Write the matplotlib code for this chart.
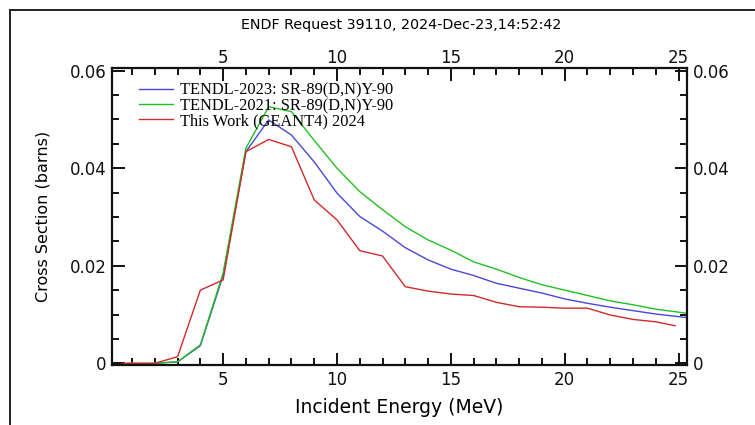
import numpy as np
import matplotlib
matplotlib.use("Agg")
import matplotlib.pyplot as plt
from matplotlib.lines import Line2D
from matplotlib.ticker import MultipleLocator, FixedLocator

# energies (MeV) and cross sections (barns)
E_T23 = [2, 3, 4, 5, 6, 7, 8, 9, 10, 11, 12, 13, 14, 15, 16, 17, 18, 19, 20,
         21, 22, 23, 24, 25.3]
XS_T23 = [0.0, 0.0003, 0.0036, 0.018, 0.0434, 0.0499, 0.0468, 0.0413, 0.0349,
          0.0301, 0.0271, 0.0237, 0.0212, 0.0193, 0.0180, 0.0164, 0.0154,
          0.0144, 0.0132, 0.0123, 0.0115, 0.0108, 0.0101, 0.0094]

E_T21 = [0.8, 2, 3, 4, 5, 6, 7, 8, 9, 10, 11, 12, 13, 14, 15, 16, 17, 18, 19,
         20, 21, 22, 23, 24, 25.3]
XS_T21 = [0.0, 0.0, 0.0003, 0.0038, 0.0185, 0.0441, 0.0526, 0.0516, 0.0457,
          0.0400, 0.0352, 0.0315, 0.0280, 0.0253, 0.0232, 0.0208, 0.0193,
          0.0176, 0.0161, 0.0150, 0.0139, 0.0128, 0.0120, 0.0111, 0.0103]

E_G4 = [0.6, 1, 2, 3, 4, 5, 6, 7, 8, 9, 10, 11, 12, 13, 14, 15, 16, 17, 18,
        19, 20, 21, 22, 23, 24, 24.85]
XS_G4 = [0.0, 0.0, 0.0, 0.00135, 0.0150, 0.0171, 0.0434, 0.0459, 0.0444,
         0.0335, 0.0294, 0.0231, 0.0220, 0.0157, 0.0148, 0.0142, 0.0139,
         0.0125, 0.0116, 0.0115, 0.0113, 0.0113, 0.0099, 0.0090, 0.0085,
         0.0077]

X_TICKS = [5, 10, 15, 20, 25]

LBL_T23 = "TENDL-2023: SR-89(D,N)Y-90"
LBL_T21 = "TENDL-2021: SR-89(D,N)Y-90"
LBL_G4 = "This Work (GEANT4) 2024"
TITLE = "ENDF Request 39110, 2024-Dec-23,14:52:42"

BLUE = "#4848d8"
GREEN = "#22c022"
RED = "#d02a2a"
INK = "#111111"

plt.rcParams["font.family"] = ["DejaVu Sans"]

fig = plt.figure(figsize=(7.55, 4.25), dpi=100)
ax = fig.add_axes([112 / 755, 1 - 365 / 425, 575 / 755, 297 / 425])

ax.plot(E_T23, XS_T23, color=BLUE, lw=1.0, label=LBL_T23)
ax.plot(E_T21, XS_T21, color=GREEN, lw=1.0, label=LBL_T21)
ax.plot(E_G4, XS_G4, color=RED, lw=1.0, label=LBL_G4)

ax.set_xlim(0.12, 25.37)
ax.set_ylim(-0.00035, 0.06055)

ax.xaxis.set_major_locator(FixedLocator(X_TICKS))
ax.xaxis.set_minor_locator(MultipleLocator(1))
ax.yaxis.set_major_locator(MultipleLocator(0.02))
ax.yaxis.set_minor_locator(MultipleLocator(0.005))
ax.yaxis.set_major_formatter(plt.FuncFormatter(
    lambda v, p: "0" if abs(v) < 1e-9 else f"{v:.2f}"))

ax.tick_params(which="both", direction="in", top=True, right=True,
               labeltop=False, labelright=True, labelsize=12, colors=INK,
               width=1.4, pad=4)
ax.tick_params(which="major", length=9)
ax.tick_params(which="minor", length=5)
for s in ax.spines.values():
    s.set_linewidth(1.6)
    s.set_color(INK)

# top tick labels sit closer to the frame than the bottom ones
top = ax.secondary_xaxis("top")
top.xaxis.set_major_locator(FixedLocator(X_TICKS))
top.xaxis.set_minor_locator(FixedLocator([]))
top.tick_params(length=0, labelsize=12, colors=INK, pad=1)
top.spines["top"].set_visible(False)

ax.set_xlabel("Incident Energy (MeV)", fontsize=13.5, labelpad=7)
ax.set_ylabel("Cross Section (barns)", fontsize=11.5, labelpad=14)

leg = ax.legend(loc="upper left", bbox_to_anchor=(0.035, 0.972), frameon=False,
                prop={"family": "Liberation Serif", "size": 11.8},
                handlelength=2.1, handletextpad=0.45, labelspacing=-0.05,
                borderaxespad=0)

fig.text(401 / 755, 1 - 25 / 425, TITLE, ha="center", va="center",
         fontsize=10.3, family="DejaVu Sans")

# border lines of the original frame (top and left)
fig.add_artist(Line2D([10 / 755, 1], [1 - 10 / 425, 1 - 10 / 425],
                      transform=fig.transFigure, color="#222222", lw=1.4))
fig.add_artist(Line2D([10 / 755, 10 / 755], [0, 1 - 10 / 425],
                      transform=fig.transFigure, color="#222222", lw=1.4))

fig.savefig("out.png", dpi=100)
